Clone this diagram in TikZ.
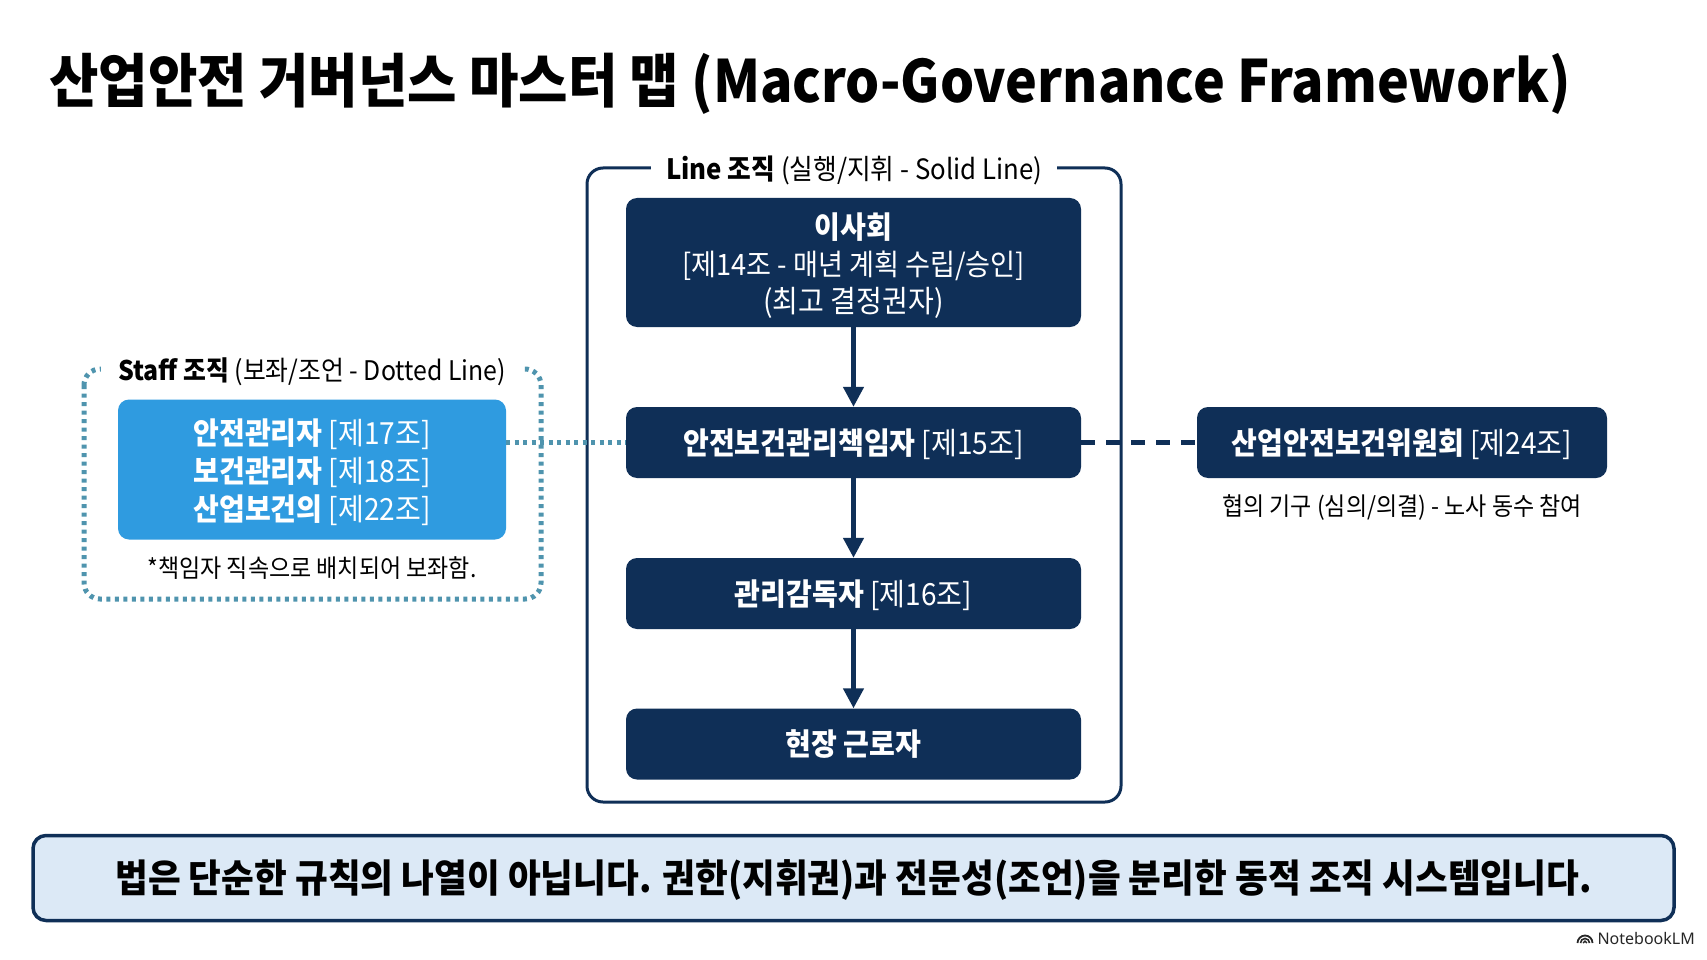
\documentclass[tikz,border=0pt]{standalone}
\usepackage{fontspec}
\setmainfont[FakeStretch=0.92]{Noto Sans CJK KR}
\newfontfamily\lmfont{Noto Sans}
\usetikzlibrary{arrows.meta,positioning,calc}
\definecolor{navy}{HTML}{0F2F57}
\definecolor{skyb}{HTML}{2F9BE0}
\definecolor{dotc}{HTML}{4F94AE}
\definecolor{pale}{HTML}{DCE9F6}
\tikzset{
 navybox/.style={draw=none,fill=navy,rounded corners=11pt,text=white,align=center,inner sep=0pt,font=\fontsize{30.5}{38}\selectfont},
 framelabel/.style={fill=white,inner xsep=15pt,inner ysep=2pt,text=black,font=\fontsize{28}{34}\selectfont},
 flowarrow/.style={navy,line width=4.5pt,-{Triangle[length=20pt,width=20pt]}},
}
\begin{document}
\begin{tikzpicture}[x=1pt,y=-1pt]
\useasboundingbox (0,0) rectangle (1707,960);
\fill[white] (0,0) rectangle (1707,960);
\node[anchor=west,inner sep=0pt,font=\bfseries\fontsize{58.4}{62}\selectfont] (title) at (49,84) {산업안전 거버넌스 마스터 맵 (Macro-Governance Framework)};
% Line frame
\draw[navy,line width=3pt,rounded corners=16pt] (587,168) rectangle (1121,802);
\node[framelabel] (linelabel) at (854,170) {\textbf{Line 조직} (실행/지휘 - Solid Line)};
% Staff frame
\draw[dotc,line width=5pt,dash pattern=on 4pt off 4.5pt,rounded corners=16pt] (84,369) rectangle (541,599);
\node[framelabel,inner xsep=17pt,font=\fontsize{27}{34}\selectfont] (stafflabel) at (312,372) {\textbf{Staff 조직} (보좌/조언 - Dotted Line)};
\node[navybox,minimum width=455pt,minimum height=129pt] (board) at (853.5,262.5) {\rule{0pt}{31pt}\textbf{이사회}\\[-1pt]{\fontsize{29.5}{36}\selectfont [제14조 - 매년 계획 수립/승인]}\\[-1pt](최고 결정권자)};
\node[navybox,minimum width=455pt,minimum height=71pt] (resp) at (853.5,442.5) {\rule{0pt}{29pt}\textbf{안전보건관리책임자} [제15조]};
\node[navybox,minimum width=455pt,minimum height=71pt] (super) at (853.5,593.5) {\rule{0pt}{29pt}\textbf{관리감독자} [제16조]};
\node[navybox,minimum width=455pt,minimum height=71pt] (worker) at (853.5,744) {\textbf{현장 근로자}};
\node[navybox,fill=skyb,minimum width=388pt,minimum height=140pt] (staff) at (312,469.5) {\rule{0pt}{32pt}\textbf{안전관리자} [제17조]\\\textbf{보건관리자} [제18조]\\\textbf{산업보건의} [제22조]};
\node[navybox,minimum width=410pt,minimum height=71pt] (comm) at (1402,442.5) {\rule{0pt}{29pt}\textbf{산업안전보건위원회} [제24조]};
\node[font=\fontsize{25}{30}\selectfont] (staffnote) at (312,568) {*책임자 직속으로 배치되어 보좌함.};
\node[font=\fontsize{25}{30}\selectfont] (commnote) at (1402,508) {협의 기구 (심의/의결) - 노사 동수 참여};
\draw[flowarrow] (board) -- (resp);
\draw[flowarrow] (resp) -- (super);
\draw[flowarrow] (super) -- (worker);
\draw[navy,line width=5pt,dash pattern=on 14pt off 11pt] (resp.east) -- (comm.west);
\draw[dotc,line width=5pt,dash pattern=on 4pt off 4.5pt] (staff.east |- resp.west) -- (resp.west);
\node[draw=navy,line width=3.5pt,fill=pale,rounded corners=13pt,minimum width=1641pt,minimum height=85pt,inner sep=0pt,font=\bfseries\fontsize{38.7}{44}\selectfont] (msg) at (853.5,878) {\rule{0pt}{37pt}법은 단순한 규칙의 나열이 아닙니다. 권한(지휘권)과 전문성(조언)을 분리한 동적 조직 시스템입니다.};
\node[anchor=east,inner sep=0pt,font=\fontsize{16}{18}\selectfont,text=black!85] (nlm) at (1695,938) {\lmfont NotebookLM};
\coordinate (logo) at (1585,943);
\foreach \r/\w in {7.5/1.8,4.5/1.6,1.8/1.4}
  \draw[black!85,line width=\w pt] ($(logo)+(-\r,0)$) arc[start angle=180,end angle=0,radius=\r pt];
\end{tikzpicture}
\end{document}
